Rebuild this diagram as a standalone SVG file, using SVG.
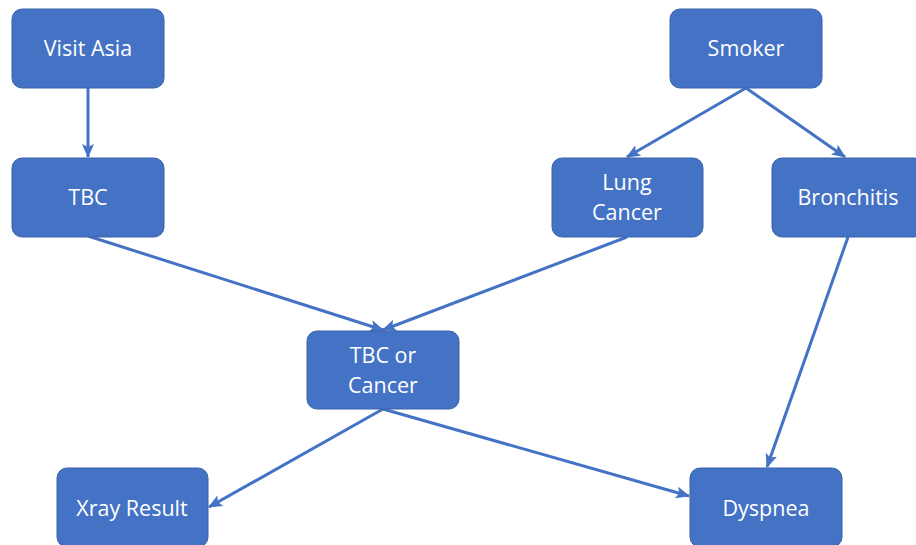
<svg xmlns="http://www.w3.org/2000/svg" width="916" height="545" viewBox="0 0 916 545">
<defs>
<style>
.n rect{fill:#4472C4;stroke:#3A62A8;stroke-width:1}
.n text{fill:#fff;font-family:"Open Sans","Liberation Sans",sans-serif;font-size:21.5px;text-anchor:middle}
.e line{stroke:#4472C4;stroke-width:3;marker-end:url(#a)}
</style>
<marker id="a" markerUnits="userSpaceOnUse" markerWidth="14" markerHeight="12" refX="13" refY="6" orient="auto">
<path d="M0,0 L14,6 L0,12 L3,6 Z" fill="#4472C4"/>
</marker>
</defs>
<rect width="916" height="545" fill="#fff"/>
<g id="connectors" class="e">
<line x1="88" y1="88" x2="88" y2="157"/>
<line x1="88" y1="236" x2="383" y2="330"/>
<line x1="627" y1="237" x2="383" y2="330"/>
<line x1="746" y1="88" x2="627" y2="157"/>
<line x1="746" y1="88" x2="845" y2="157"/>
<line x1="848" y1="237" x2="767" y2="467"/>
<line x1="383" y1="409" x2="209" y2="507"/>
<line x1="383" y1="409" x2="689" y2="496"/>
</g>
<g id="visit-asia" class="n"><rect x="12" y="9" width="152" height="79" rx="10"/><text x="88" y="56">Visit Asia</text></g>
<g id="smoker" class="n"><rect x="670" y="9" width="152" height="79" rx="10"/><text x="746" y="56">Smoker</text></g>
<g id="tbc" class="n"><rect x="12" y="158" width="152" height="79" rx="10"/><text x="88" y="205">TBC</text></g>
<g id="lung-cancer" class="n"><rect x="552" y="158" width="151" height="79" rx="10"/><text x="627" y="190">Lung</text><text x="627" y="220">Cancer</text></g>
<g id="bronchitis" class="n"><rect x="772" y="158" width="152" height="79" rx="10"/><text x="848" y="205">Bronchitis</text></g>
<g id="tbc-or-cancer" class="n"><rect x="307" y="331" width="152" height="78" rx="10"/><text x="383" y="363">TBC or</text><text x="383" y="393">Cancer</text></g>
<g id="xray-result" class="n"><rect x="57" y="468" width="151" height="79" rx="10"/><text x="132" y="516">Xray Result</text></g>
<g id="dyspnea" class="n"><rect x="690" y="468" width="152" height="79" rx="10"/><text x="766" y="516">Dyspnea</text></g>
</svg>
